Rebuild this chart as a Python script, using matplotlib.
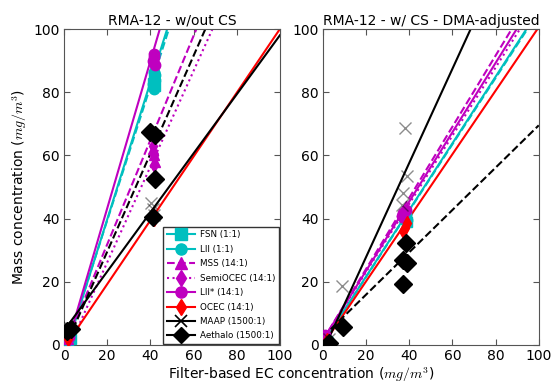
import numpy as np
import matplotlib
matplotlib.use("Agg")
import matplotlib.pyplot as plt
from matplotlib.lines import Line2D

plt.rcParams["mathtext.fontset"] = "cm"
plt.rcParams["font.family"] = "DejaVu Sans"

# instruments: name, colour, marker, fit linestyle, legend linestyle
names = ["FSN (1:1)", "LII (1:1)", "MSS (14:1)", "SemiOCEC (14:1)",
         "LII* (14:1)", "OCEC (14:1)", "MAAP (1500:1)", "Aethalo (1500:1)"]
colors = ["c", "c", "m", "m", "m", "r", "k", "k"]
markers = ["s", "o", "^", "d", "o", "d", "x", "D"]
fit_styles = ["-", "--", "--", ":", "-", "-", "-", "--"]
leg_styles = ["-", "-", "--", ":", "-", "-", "-", "-"]

# left panel (w/out CS) measurements
left_x = [
    [2, 3, 41, 41.5, 42],
    [2.5, 41.5, 42, 41, 41.5, 42],
    [2, 41, 41.5, 42],
    [2.5, 41, 41.5, 41.5],
    [2.5, 41.5, 41, 42, 41.5],
    [2, 41, 41.5],
    [2, 40.5, 41, 41.5],
    [1.5, 3, 40, 42, 42, 41],
]
left_y = [
    [1, 2, 83, 85, 82],
    [1.5, 86.5, 84, 82.5, 81, 85.5],
    [2, 62, 60, 58],
    [2, 63, 60, 57],
    [2.5, 92, 90, 88.5, 91],
    [2, 41, 40],
    [6, 45, 43, 41],
    [4.5, 5, 67.5, 66.5, 52.5, 40.5],
]
left_slope = [2.17, 2.12, 1.65, 1.515, 2.33, 1.01, 0.935, 1.55]
left_icpt = [-3.7, -3.0, -1.2, -4.2, -3.4, -1.0, 4.5, -1.5]

# right panel (w/ CS, DMA-adjusted) measurements
right_x = [
    [2, 38, 38.5, 39],
    [2.5, 38.8, 38.3, 37.5],
    [2, 37, 38],
    [2, 37.5, 38],
    [1, 37, 38.3, 36.5],
    [2, 38, 39, 37.1],
    [3, 8.7, 36.5, 37.2, 38.8, 38],
    [2.9, 9.1, 37, 37, 39, 38.5],
]
right_y = [
    [1, 40, 41, 39],
    [1.5, 39.5, 41, 40],
    [2.5, 42, 40.5],
    [2, 41, 39.5],
    [3, 41.7, 42.7, 40.7],
    [1.5, 37, 38.5, 36],
    [2, 18.7, 44.3, 48, 53.3, 68.8],
    [0.7, 5.8, 19.3, 26.9, 25.8, 32.4],
]
right_slope = [1.055, 1.05, 1.126, 1.079, 1.097, 1.006, 1.49, 0.67]
right_icpt = [0.5, 0.5, 1.5, 1.5, 1.5, 0.0, -2.0, 2.5]

xticks = [0, 20, 40, 60, 80, 100]

fig = plt.figure(figsize=(5.52, 3.87), dpi=100)
ax1 = fig.add_axes([0.116, 0.109, 0.391, 0.816])
ax2 = fig.add_axes([0.585, 0.109, 0.391, 0.816])

xfit = np.linspace(0, 100, 200)


def draw(ax, xs, ys, slopes, icpts):
    for i in range(len(names)):
        c = colors[i]
        ax.plot(xfit, slopes[i] * xfit + icpts[i], color=c, ls=fit_styles[i],
                lw=1.5, zorder=2)
    for i in range(len(names)):
        c = colors[i]
        if markers[i] == "x":
            ax.plot(xs[i], ys[i], ls="none", marker="x", ms=9, mew=1,
                    color="k", alpha=0.45, zorder=3)
        else:
            ms = 9 if markers[i] == "D" else 7.5
            ax.plot(xs[i], ys[i], ls="none", marker=markers[i], ms=ms,
                    mfc=c, mec=c, zorder=3)
    ax.set_xlim(0, 100)
    ax.set_ylim(0, 100)
    ax.set_xticks(xticks)
    ax.set_yticks(xticks)
    ax.tick_params(direction="in", top=True, right=True, length=4,
                   labelsize=10, color="#555555", pad=3)
    for s in ax.spines.values():
        s.set_color("#555555")


draw(ax1, left_x, left_y, left_slope, left_icpt)
draw(ax2, right_x, right_y, right_slope, right_icpt)

ax1.set_title("RMA-12 - w/out CS", fontsize=10, pad=3)
ax2.set_title("RMA-12 - w/ CS - DMA-adjusted", fontsize=10, pad=3)
ax1.set_ylabel("Mass concentration ($mg/m^3$)", fontsize=10, labelpad=3)
fig.text(0.545, 0.008, "Filter-based EC concentration ($mg/m^3$)",
         ha="center", va="bottom", fontsize=10)

handles = []
for i in range(len(names)):
    handles.append(Line2D([], [], color=colors[i], ls=leg_styles[i], lw=1.5,
                          marker=markers[i], ms=8, mfc=colors[i],
                          mec=colors[i], mew=1.2 if markers[i] == "x" else 1))
leg = ax1.legend(handles, names, loc="lower right", fontsize=6.3,
                 numpoints=1, handlelength=3.2, borderaxespad=0.1,
                 fancybox=False, framealpha=1, labelspacing=0.62,
                 handletextpad=0.6)
leg.get_frame().set_edgecolor("#333333")

fig.savefig("out.png", dpi=100)
